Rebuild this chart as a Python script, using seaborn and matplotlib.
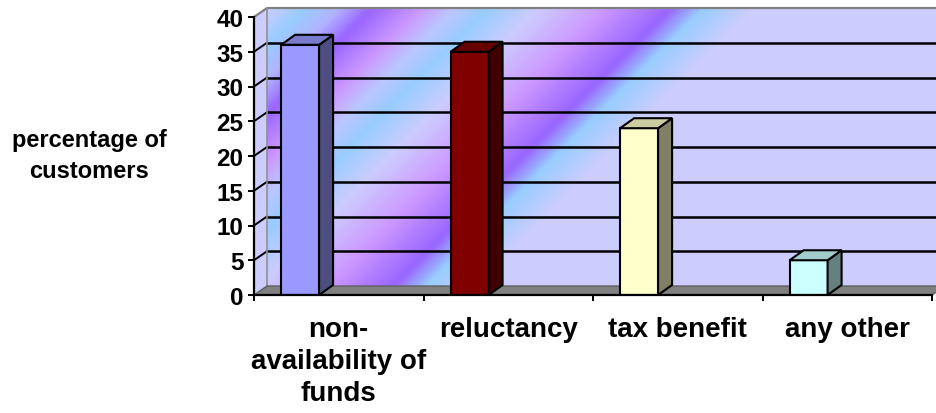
import numpy as np
import pandas as pd
import matplotlib
matplotlib.use("Agg")
import matplotlib.pyplot as plt
from matplotlib.colors import LinearSegmentedColormap, to_rgb
from matplotlib.patches import Polygon
import seaborn as sns

# data
categories = ["non-\navailability of\nfunds", "reluctancy", "tax benefit", "any other"]
values = [36, 35, 24, 5]
bar_colors = ["#9999FF", "#800000", "#FFFFCC", "#CCFFFF"]
y_ticks = [0, 5, 10, 15, 20, 25, 30, 35, 40]
y_label = "percentage of\ncustomers"

plt.rcParams["font.family"] = ["Liberation Sans", "DejaVu Sans"]
plt.rcParams["font.weight"] = "bold"

W, H, DPI = 936, 414, 100
# front plane of the plot area, in pixels
AX_L, AX_R, AX_T, AX_B = 254, 932, 18, 296
WALL_DX, WALL_DY = 13, 9     # depth of the walls
BAR_DX, BAR_DY = 14, 10      # depth of the bars
BAR_W = 0.224
BAR_SHIFT = -0.228

fig = plt.figure(figsize=(W / DPI, H / DPI), dpi=DPI)
ax = fig.add_axes([AX_L / W, 1 - AX_B / H, (AX_R - AX_L) / W, (AX_B - AX_T) / H])
ax.patch.set_alpha(0)

df = pd.DataFrame({"reason": categories, "pct": values})
sns.barplot(data=df, x="reason", y="pct", hue="reason", palette=bar_colors,
            dodge=False, legend=False, width=BAR_W, saturation=1,
            edgecolor="black", linewidth=1.5, ax=ax, zorder=3)

n = len(categories)
xmin, xmax, ymax = -0.5, n - 0.5, y_ticks[-1]
sx = (xmax - xmin) / (AX_R - AX_L)
sy = ymax / (AX_B - AX_T)

# back wall with the diagonal gradient fill
wx0, wx1 = xmin + WALL_DX * sx, xmax + WALL_DX * sx
wy0, wy1 = WALL_DY * sy, ymax + WALL_DY * sy
lav, blue, purp, pink = "#CCCCFF", "#99CCFF", "#9966FF", "#CC99FF"
stops = [(0, lav), (37, blue), (71, "#B3B3FF"), (104, purp), (154, pink),
         (187, "#BBC6FF"), (221, blue), (271, lav), (337, pink), (404, purp),
         (437, blue), (487, lav)]
smax = stops[-1][0]
cmap = LinearSegmentedColormap.from_list("wall", [(s / smax, c) for s, c in stops])
wall_w, wall_h = AX_R - AX_L, AX_B - AX_T
xx, yy = np.meshgrid(np.arange(wall_w), np.arange(wall_h))
s = np.clip((xx + 1.0 * yy) / smax, 0, 1)
ax.imshow(cmap(s), extent=(wx0, wx1, wy0, wy1), origin="upper", aspect="auto",
          interpolation="bilinear", zorder=0, clip_on=False)

# side wall
ax.add_patch(Polygon([(xmin, 0), (xmin, ymax), (wx0, wy1), (wx0, wy0)],
                     closed=True, fc=lav, ec="none", zorder=0.5, clip_on=False))
for t in y_ticks[1:-1]:
    ax.plot([wx0, wx1], [t + wy0] * 2, color="black", lw=1.8, zorder=1, clip_on=False)
    ax.plot([xmin, wx0], [t, t + wy0], color="black", lw=1.4, zorder=1, clip_on=False)
ax.plot([xmin, wx0, wx1], [ymax, wy1, wy1], color="#808080", lw=1.6, zorder=1, clip_on=False)
ax.plot([wx0, wx0], [wy0, wy1], color="#909090", lw=1.2, zorder=1, clip_on=False)

# floor
ax.add_patch(Polygon([(xmin, 0), (wx0, wy0), (wx1, wy0), (xmax, 0)], closed=True,
                     fc="#808080", ec="#606060", lw=1, zorder=1.5, clip_on=False))

# 3d faces of the bars
bdx, bdy = BAR_DX * sx, BAR_DY * sy
for p in ax.patches:
    if not hasattr(p, "get_width") or isinstance(p, Polygon):
        continue
    i = int(round(p.get_x() + p.get_width() / 2))
    x = p.get_x() + BAR_SHIFT
    p.set_x(x)
    w, h = p.get_width(), p.get_height()
    base = np.array(to_rgb(bar_colors[i]))
    side = [(x + w, 0), (x + w + bdx, bdy), (x + w + bdx, h + bdy), (x + w, h)]
    top = [(x, h), (x + bdx, h + bdy), (x + w + bdx, h + bdy), (x + w, h)]
    ax.add_patch(Polygon(side, closed=True, fc=base * 0.5, ec="black", lw=1.5, zorder=3))
    ax.add_patch(Polygon(top, closed=True, fc=base * 0.8, ec="black", lw=1.5, zorder=3))

ax.set_xlim(xmin, xmax)
ax.set_ylim(0, ymax)
ax.set_yticks(y_ticks)
ax.set_xticks(np.arange(xmin, xmax + 0.1, 1), minor=True)
ax.set_xlabel("")
ax.set_ylabel("")
for side_name in ["top", "right"]:
    ax.spines[side_name].set_visible(False)
for side_name in ["left", "bottom"]:
    ax.spines[side_name].set_color("black")
    ax.spines[side_name].set_linewidth(1.6)
    ax.spines[side_name].set_zorder(4)

ax.tick_params(axis="y", length=4.5, width=1.4, color="black", labelsize=17.5, pad=3)
ax.tick_params(axis="x", which="major", length=0, labelsize=20, pad=15)
ax.tick_params(axis="x", which="minor", length=4.5, width=1.4, color="black")
for lbl in ax.get_yticklabels():
    lbl.set_fontweight("bold")
for lbl in ax.get_xticklabels():
    lbl.set_fontweight("bold")
    lbl.set_multialignment("center")
    lbl.set_linespacing(1.3)

fig.text(89 / W, 1 - 156 / H, y_label, ha="center", va="center", fontsize=17,
         fontweight="bold", linespacing=1.4)

fig.savefig("out.png", dpi=DPI, facecolor="white")
